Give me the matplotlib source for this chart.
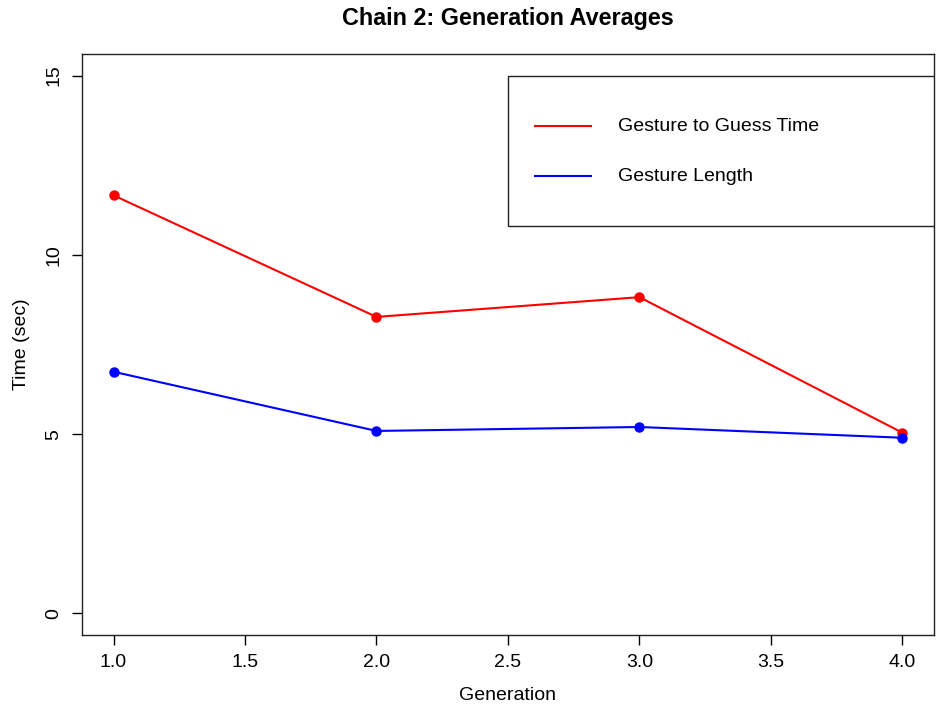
import matplotlib.pyplot as plt
from matplotlib.patches import Rectangle

generation = [1, 2, 3, 4]
guess_time = [11.66, 8.27, 8.82, 5.04]
gesture_length = [6.74, 5.09, 5.20, 4.90]
series_names = ['Gesture to Guess Time', 'Gesture Length']
x_ticks = [1.0, 1.5, 2.0, 2.5, 3.0, 3.5, 4.0]
y_ticks = [0, 5, 10, 15]

plt.rcParams['font.family'] = ['Liberation Sans', 'DejaVu Sans']

fig = plt.figure(figsize=(9.4, 7.08), dpi=100)
ax = fig.add_axes([0.0872, 0.1031, 0.9064, 0.8206])

ax.plot(generation, guess_time, color='red', lw=1.5, marker='o', ms=6.5)
ax.plot(generation, gesture_length, color='blue', lw=1.5, marker='o', ms=6.5)

ax.set_xlim(0.88, 4.12)
ax.set_ylim(-0.6, 15.6)
ax.set_xticks(x_ticks)
ax.set_xticklabels([f'{v:.1f}' for v in x_ticks])
ax.set_yticks(y_ticks)
ax.set_yticklabels([str(v) for v in y_ticks], rotation=90, va='center')
ax.tick_params(length=7, width=1, labelsize=14, pad=7)

for s in ax.spines.values():
    s.set_linewidth(1)
    s.set_color('#222222')

ax.set_title('Chain 2: Generation Averages', fontsize=16.8, fontweight='bold', pad=21)
ax.set_xlabel('Generation', fontsize=14, labelpad=11)
ax.set_ylabel('Time (sec)', fontsize=14, labelpad=11)

# legend box, clipped at the plot region like R's legend()
ax.add_patch(Rectangle((2.5, 10.8), 3.0, 4.2, fill=False, lw=1, ec='#222222'))
for name, col, y in zip(series_names, ['red', 'blue'], [13.58, 12.19]):
    ax.plot([2.603, 2.816], [y, y], color=col, lw=1.5)
    ax.text(2.919, y, name, fontsize=14, va='center', ha='left')

fig.savefig('out.png', dpi=100)
